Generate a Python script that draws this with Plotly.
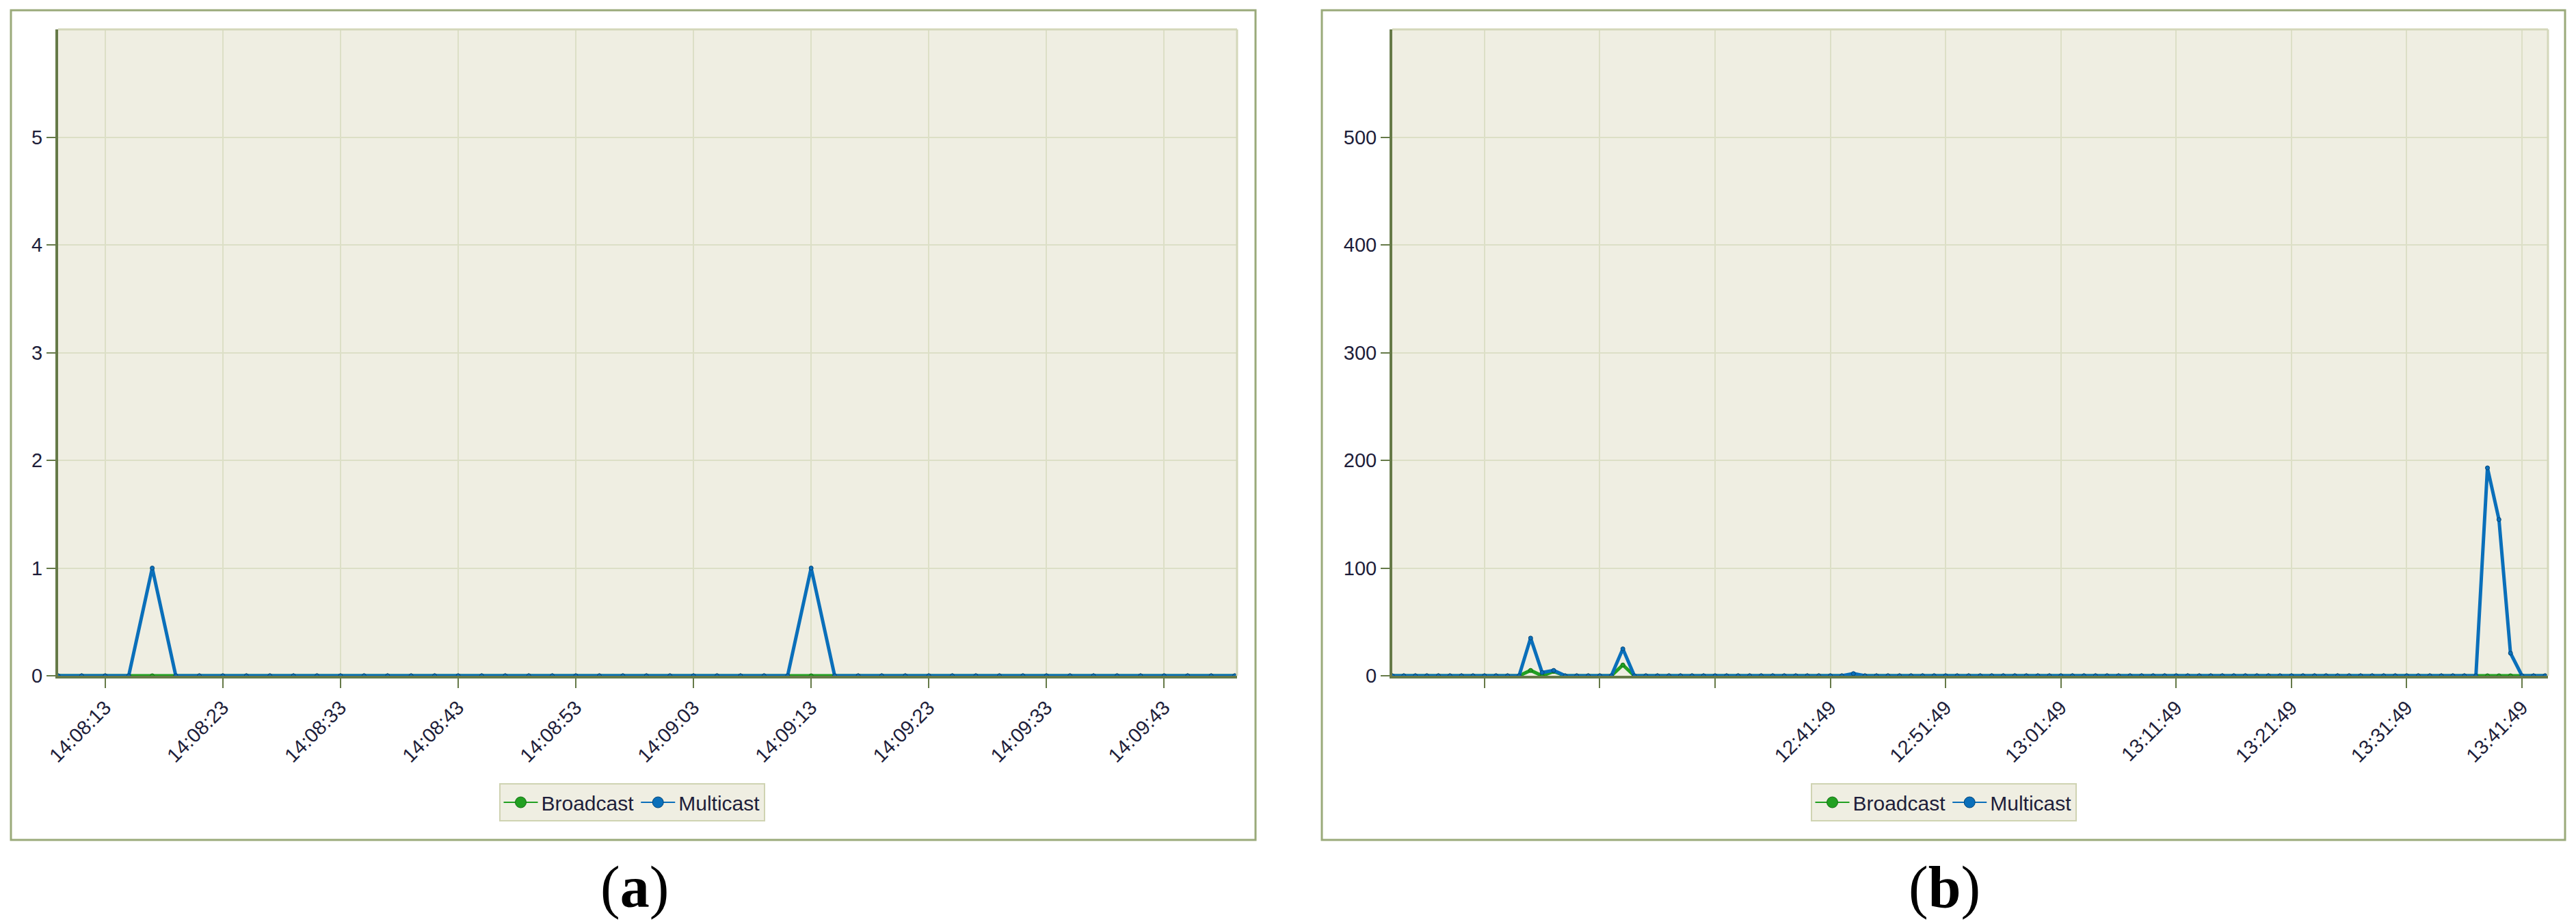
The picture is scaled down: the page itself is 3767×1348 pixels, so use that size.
import pandas as pd
import plotly.graph_objects as go

# panel (a): samples every 2 s
timesA = pd.date_range("2021-01-01 14:08:09", "2021-01-01 14:09:49", freq="2s")
broadcastA = [0, 0, 0, 0, 0, 0, 0, 0, 0, 0,
              0, 0, 0, 0, 0, 0, 0, 0, 0, 0,
              0, 0, 0, 0, 0, 0, 0, 0, 0, 0,
              0, 0, 0, 0, 0, 0, 0, 0, 0, 0,
              0, 0, 0, 0, 0, 0, 0, 0, 0, 0, 0]
multicastA = [0, 0, 0, 0, 1, 0, 0, 0, 0, 0,
              0, 0, 0, 0, 0, 0, 0, 0, 0, 0,
              0, 0, 0, 0, 0, 0, 0, 0, 0, 0,
              0, 0, 1, 0, 0, 0, 0, 0, 0, 0,
              0, 0, 0, 0, 0, 0, 0, 0, 0, 0, 0]
ticksA = ["14:08:13", "14:08:23", "14:08:33", "14:08:43", "14:08:53",
          "14:09:03", "14:09:13", "14:09:23", "14:09:33", "14:09:43"]

# panel (b): samples every minute
timesB = pd.date_range("2021-01-01 12:03:49", "2021-01-01 13:43:49", freq="1min")
broadcastB = [0, 0, 0, 0, 0, 0, 0, 0, 0, 0,
              0, 0, 5, 0, 4, 0, 0, 0, 0, 0,
              10, 0, 0, 0, 0, 0, 0, 0, 0, 0,
              0, 0, 0, 0, 0, 0, 0, 0, 0, 0,
              0, 0, 0, 0, 0, 0, 0, 0, 0, 0,
              0, 0, 0, 0, 0, 0, 0, 0, 0, 0,
              0, 0, 0, 0, 0, 0, 0, 0, 0, 0,
              0, 0, 0, 0, 0, 0, 0, 0, 0, 0,
              0, 0, 0, 0, 0, 0, 0, 0, 0, 0,
              0, 0, 0, 0, 0, 0, 0, 0, 0, 0, 0]
multicastB = [0, 0, 0, 0, 0, 0, 0, 0, 0, 0,
              0, 0, 35, 3, 5, 0, 0, 0, 0, 0,
              25, 0, 0, 0, 0, 0, 0, 0, 0, 0,
              0, 0, 0, 0, 0, 0, 0, 0, 0, 0,
              2, 0, 0, 0, 0, 0, 0, 0, 0, 0,
              0, 0, 0, 0, 0, 0, 0, 0, 0, 0,
              0, 0, 0, 0, 0, 0, 0, 0, 0, 0,
              0, 0, 0, 0, 0, 0, 0, 0, 0, 0,
              0, 0, 0, 0, 0, 0, 0, 0, 0, 0,
              0, 0, 0, 0, 0, 193, 145, 21, 0, 0, 0]
ticksB = ["12:11:49", "12:21:49", "12:31:49", "12:41:49", "12:51:49",
          "13:01:49", "13:11:49", "13:21:49", "13:31:49", "13:41:49"]
tickLabelsB = ["", "", "", "12:41:49", "12:51:49",
               "13:01:49", "13:11:49", "13:21:49", "13:31:49", "13:41:49"]

W, H = 3767, 1348
green = "#22A022"
blue = "#0A6FBA"
bg = "#EFEEE2"
grid = "#DCDFC6"
axisCol = "#667A48"
boxCol = "#9AAA7A"
font = "Liberation Sans"
textCol = "#1E1E3A"

fig = go.Figure()


def addSeries(x, y, name, color, dark, xa, ya, leg):
    fig.add_trace(go.Scatter(x=x, y=y, name=name, mode="lines+markers",
                             line=dict(color=color, width=5),
                             marker=dict(color=color, size=6, line=dict(color=dark, width=1)),
                             xaxis=xa, yaxis=ya, showlegend=False))
    # bigger symbol just for the legend
    fig.add_trace(go.Scatter(x=[None], y=[None], name=name, mode="lines+markers",
                             line=dict(color=color, width=2),
                             marker=dict(color=color, size=30, line=dict(color=dark, width=1)),
                             xaxis=xa, yaxis=ya, legend=leg))


addSeries(timesA, broadcastA, "Broadcast", green, "#157015", "x", "y", "legend")
addSeries(timesA, multicastA, "Multicast", blue, "#06487A", "x", "y", "legend")
addSeries(timesB, broadcastB, "Broadcast", green, "#157015", "x2", "y2", "legend2")
addSeries(timesB, multicastB, "Multicast", blue, "#06487A", "x2", "y2", "legend2")

ydom = [1 - 988 / H, 1 - 43 / H]
xdomA = [85 / W, 1809 / W]
xdomB = [2036 / W, 3726 / W]

xcommon = dict(type="date", showgrid=True, gridcolor=grid, gridwidth=2,
               showline=True, linecolor=axisCol, linewidth=4,
               ticks="outside", ticklen=14, tickwidth=2, tickcolor=axisCol,
               tickangle=-45, tickfont=dict(family=font, size=29, color=textCol),
               zeroline=False, tickmode="array", automargin=False)
ycommon = dict(showgrid=True, gridcolor=grid, gridwidth=2,
               showline=True, linecolor=axisCol, linewidth=4,
               ticks="outside", ticklen=13, tickwidth=2, tickcolor=axisCol,
               tickfont=dict(family=font, size=29, color=textCol),
               zeroline=False, domain=ydom, tickmode="array", automargin=False)

legendStyle = dict(orientation="h", xanchor="center", y=1 - 1173 / H, yanchor="middle",
                   bgcolor=bg, bordercolor="#CFD3B2", borderwidth=2,
                   font=dict(family=font, size=30, color=textCol), itemwidth=50,
                   tracegroupgap=0)

fig.update_layout(
    width=W, height=H, autosize=False,
    margin=dict(l=0, r=0, t=0, b=0),
    paper_bgcolor="white", plot_bgcolor=bg,
    xaxis=dict(xcommon, domain=xdomA, anchor="y",
               range=["2021-01-01 14:08:09", "2021-01-01 14:09:49.2"],
               tickvals=["2021-01-01 " + t for t in ticksA], ticktext=ticksA),
    yaxis=dict(ycommon, anchor="x", range=[0, 6], tickvals=[0, 1, 2, 3, 4, 5]),
    xaxis2=dict(xcommon, domain=xdomB, anchor="y2",
                range=["2021-01-01 12:03:49", "2021-01-01 13:44:04"],
                tickvals=["2021-01-01 " + t for t in ticksB], ticktext=tickLabelsB),
    yaxis2=dict(ycommon, anchor="x2", range=[0, 600], tickvals=[0, 100, 200, 300, 400, 500]),
    legend=dict(legendStyle, x=924 / W),
    legend2=dict(legendStyle, x=2842 / W),
)

# outer panel frames
for x0, x1 in [(16, 1836), (1933, 3751)]:
    fig.add_shape(type="rect", xref="paper", yref="paper",
                  x0=x0 / W, x1=x1 / W, y0=1 - 1228 / H, y1=1 - 15 / H,
                  line=dict(color=boxCol, width=3), fillcolor="rgba(0,0,0,0)", layer="below")

# light top / right border of each plot area
for xd in [xdomA, xdomB]:
    fig.add_shape(type="line", xref="paper", yref="paper", x0=xd[0], x1=xd[1], y0=ydom[1], y1=ydom[1],
                  line=dict(color="#D4D7BA", width=3))
    fig.add_shape(type="line", xref="paper", yref="paper", x0=xd[1], x1=xd[1], y0=ydom[0], y1=ydom[1],
                  line=dict(color="#D4D7BA", width=3))

for label, xc in [("a", 928), ("b", 2843)]:
    fig.add_annotation(text="(<b>" + label + "</b>)", xref="paper", yref="paper",
                       x=xc / W, y=1 - 1297 / H, xanchor="center", yanchor="middle",
                       showarrow=False, font=dict(family="Liberation Serif", size=86, color="black"))

# drop the default page margin so the figure sits at the window origin
fig.write_html("out.html", config={"displayModeBar": False},
               post_script="document.body.style.margin='0px';")
